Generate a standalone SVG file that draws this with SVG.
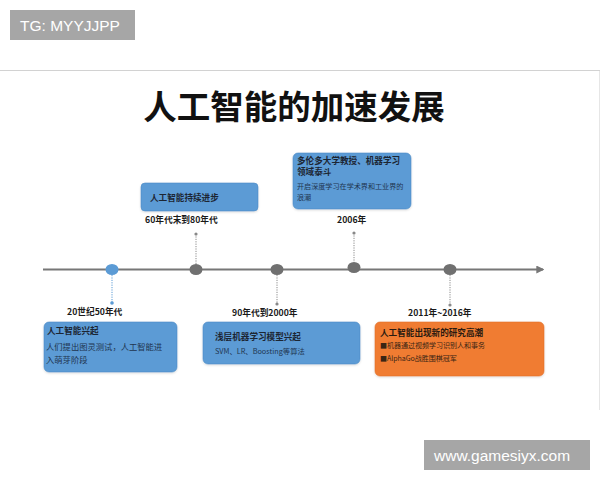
<svg xmlns="http://www.w3.org/2000/svg" width="600" height="480" viewBox="0 0 600 480">
<defs>
<style>
.cjk{font-family:"Noto Sans CJK SC","Liberation Sans",sans-serif}
.wm{font-family:"Liberation Sans","Noto Sans",sans-serif;fill:#ffffff;font-size:15.5px}
.lbl{font-family:"Noto Sans CJK SC",sans-serif;font-weight:bold;font-size:8.7px;fill:#1a1a1a}
.ttl{font-family:"Noto Sans CJK SC",sans-serif;font-weight:bold;font-size:8.6px;fill:#1c2633}
.sub{font-family:"Noto Sans CJK SC",sans-serif;font-size:7.3px;fill:#1f3550}
.bbox{fill:#5b9bd5;stroke:#4f8cc6;stroke-width:0.6}
.obox{fill:#f07c33;stroke:#e06e28;stroke-width:0.6}
.dot{fill:#707070}
.dash{stroke:#8a8a8a;stroke-width:1;stroke-dasharray:1.2 1.2;fill:none}
</style>
<marker id="arr" viewBox="0 0 6 6" refX="5" refY="3" markerWidth="4" markerHeight="4" orient="auto">
<path d="M0,0 L6,3 L0,6 z" fill="#777"/>
</marker>
<filter id="sh" x="-10%" y="-10%" width="120%" height="130%">
<feDropShadow dx="0" dy="1" stdDeviation="1" flood-color="#000" flood-opacity="0.15"/>
</filter>
</defs>
<rect width="600" height="480" fill="#ffffff"/>
<line x1="0" y1="70.5" x2="600" y2="70.5" stroke="#d2d2d2" stroke-width="1"/>
<line x1="599.5" y1="71" x2="599.5" y2="410" stroke="#e6e6e6" stroke-width="1"/>

<g id="watermark-top">
<rect x="10" y="10" width="125" height="30" fill="#a6a6a6"/>
<text x="20" y="31" class="wm">TG: MYYJJPP</text>
</g>

<text x="294" y="119" text-anchor="middle" class="cjk" font-weight="bold" font-size="33.5" fill="#111">人工智能的加速发展</text>

<g id="connectors">
<line x1="43" y1="269.5" x2="543" y2="269.5" stroke="#777" stroke-width="2" marker-end="url(#arr)"/>
<line class="dash" x1="196" y1="234" x2="196" y2="264"/>
<circle cx="196" cy="234" r="1.6" fill="#888"/>
<line class="dash" x1="354" y1="233" x2="354" y2="262"/>
<circle cx="354" cy="233" r="1.6" fill="#888"/>
<line class="dash" x1="112" y1="275" x2="112" y2="303" style="stroke:#5b9bd5"/>
<circle cx="112" cy="303" r="1.8" fill="#5b9bd5"/>
<line class="dash" x1="277" y1="275" x2="277" y2="304"/>
<circle cx="277" cy="304" r="1.6" fill="#888"/>
<line class="dash" x1="450" y1="275" x2="450" y2="305"/>
<circle cx="450" cy="305" r="1.6" fill="#888"/>
<ellipse cx="112" cy="269.5" rx="6.5" ry="5.5" fill="#5b9bd5"/>
<ellipse cx="196" cy="269.5" rx="6.5" ry="5.5" class="dot"/>
<ellipse cx="277" cy="269.5" rx="6.5" ry="5.5" class="dot"/>
<ellipse cx="354" cy="267.5" rx="6.5" ry="5.5" class="dot"/>
<ellipse cx="450" cy="269.5" rx="6.5" ry="5.5" class="dot"/>
</g>

<g id="node-1950s">
<text x="67" y="315" class="lbl">20世纪50年代</text>
<rect x="44" y="322" width="133" height="50" rx="5" class="bbox" filter="url(#sh)"/>
<text x="47" y="334" class="ttl" style="font-size:8.6px">人工智能兴起</text>
<text x="46" y="350" class="sub" style="font-size:8.3px">人们提出图灵测试，人工智能进</text>
<text x="46" y="362.5" class="sub" style="font-size:8.3px">入萌芽阶段</text>
</g>

<g id="node-60s80s">
<rect x="141" y="183" width="117" height="28" rx="4" class="bbox" filter="url(#sh)"/>
<text x="150" y="201" class="ttl">人工智能持续进步</text>
<text x="145" y="223" class="lbl">60年代末到80年代</text>
</g>

<g id="node-90s2000">
<text x="232" y="316" class="lbl">90年代到2000年</text>
<rect x="203" y="322" width="157" height="42" rx="5" class="bbox" filter="url(#sh)"/>
<text x="215" y="340" class="ttl">浅层机器学习模型兴起</text>
<text x="215" y="354" class="sub">SVM、LR、Boosting等算法</text>
</g>

<g id="node-2006">
<rect x="293" y="153" width="118" height="56" rx="5" class="bbox" filter="url(#sh)"/>
<text x="297" y="164" class="ttl">多伦多大学教授、机器学习</text>
<text x="297" y="175" class="ttl">领域泰斗</text>
<text x="297" y="189" class="sub" style="font-size:7.1px">开启深度学习在学术界和工业界的</text>
<text x="297" y="200" class="sub" style="font-size:7.1px">浪潮</text>
<text x="337" y="223" class="lbl">2006年</text>
</g>

<g id="node-2011-2016">
<text x="408" y="316" class="lbl">2011年~2016年</text>
<rect x="375" y="322" width="169" height="54" rx="5" class="obox" filter="url(#sh)"/>
<text x="380" y="336" class="ttl" style="fill:#2a1a10">人工智能出现新的研究高潮</text>
<text x="380" y="348" class="sub" style="font-size:7px;fill:#3a2514">■机器通过视频学习识别人和事务</text>
<text x="380" y="361" class="sub" style="font-size:7px;fill:#3a2514">■AlphaGo战胜围棋冠军</text>
</g>

<g id="watermark-bottom">
<rect x="424" y="440" width="166" height="30" fill="#a6a6a6"/>
<text x="434" y="461" class="wm">www.gamesiyx.com</text>
</g>
</svg>
